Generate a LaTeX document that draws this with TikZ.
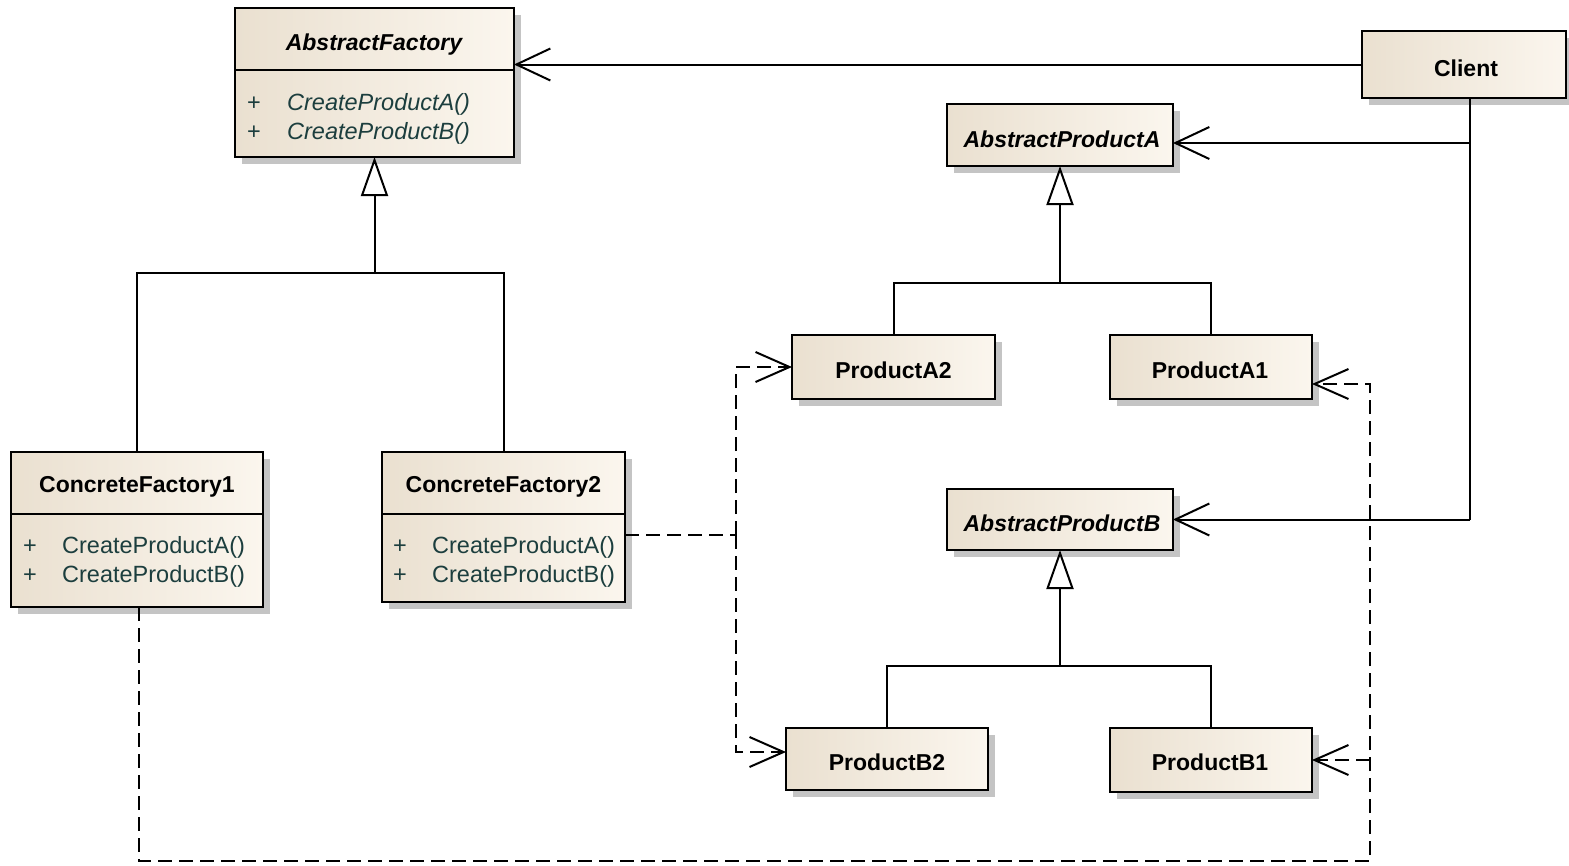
\documentclass[tikz,border=0pt]{standalone}
\usepackage{fontspec}
\setmainfont{Liberation Sans}
\usetikzlibrary{arrows.meta,shadows,calc}
\definecolor{boxL}{RGB}{234,224,208}
\definecolor{boxR}{RGB}{251,246,238}
\definecolor{shadowgray}{RGB}{196,196,196}
\definecolor{methodc}{RGB}{28,62,62}
\tikzset{
  umlbox/.style={draw=black, line width=2.4pt, left color=boxL, right color=boxR,
    drop shadow={shadow xshift=7pt, shadow yshift=-7pt, fill=shadowgray, opacity=1},
    inner sep=0pt, outer sep=0pt, anchor=north west},
  titletext/.style={inner sep=0pt, font=\bfseries\fontsize{23}{27}\selectfont},
  methodtext/.style={inner sep=0pt, anchor=west, text=methodc, font=\fontsize{23.5}{27}\selectfont},
  conn/.style={line width=2pt, draw=black},
  assoc/.style={conn, -{Straight Barb[length=34pt, width=32pt, line width=2pt]}},
  dep/.style={conn, dash pattern=on 14pt off 7pt, -{Straight Barb[length=34pt, width=30pt, line width=2pt]}},
  depline/.style={conn, dash pattern=on 14pt off 7pt},
  inh/.style={conn, -{Triangle[open, fill=white, length=39pt, width=27pt, line width=2pt]}},
}
\begin{document}
\begin{tikzpicture}[x=1pt, y=-1pt]
\useasboundingbox[fill=white] (0,0) rectangle (1569,865);

% AbstractFactory
\node[umlbox, minimum width=279pt, minimum height=149pt] (AF) at (235,8) {};
\draw[line width=2pt] (235,70) -- (514,70);
\node[titletext] (AFt) at (374.5,45) {\textit{AbstractFactory}};
\node[methodtext] (AFp1) at (247,104) {+};
\node[methodtext] (AFm1) at (287,104) {\textit{CreateProductA()}};
\node[methodtext] (AFp2) at (247,133) {+};
\node[methodtext] (AFm2) at (287,133) {\textit{CreateProductB()}};

% Client
\node[umlbox, minimum width=204pt, minimum height=67pt] (Client) at (1362,31) {};
\node[titletext] (Clientt) at (1466,68) {Client};

% AbstractProductA
\node[umlbox, minimum width=226pt, minimum height=62pt] (APA) at (947,104) {};
\node[titletext] (APAt) at (1062,139) {\textit{AbstractProductA}};

% ProductA2 / A1
\node[umlbox, minimum width=203pt, minimum height=64pt] (PA2) at (792,335) {};
\node[titletext] (PA2t) at (893.5,370) {ProductA2};
\node[umlbox, minimum width=202pt, minimum height=64pt] (PA1) at (1110,335) {};
\node[titletext] (PA1t) at (1210,370) {ProductA1};

% AbstractProductB
\node[umlbox, minimum width=226pt, minimum height=61pt] (APB) at (947,489) {};
\node[titletext] (APBt) at (1062,523) {\textit{AbstractProductB}};

% ProductB2 / B1
\node[umlbox, minimum width=202pt, minimum height=62pt] (PB2) at (786,728) {};
\node[titletext] (PB2t) at (887,762) {ProductB2};
\node[umlbox, minimum width=202pt, minimum height=64pt] (PB1) at (1110,728) {};
\node[titletext] (PB1t) at (1210,762) {ProductB1};

% ConcreteFactory1
\node[umlbox, minimum width=252pt, minimum height=155pt] (CF1) at (11,452) {};
\draw[line width=2pt] (11,514) -- (263,514);
\node[titletext] (CF1t) at (137,487) {ConcreteFactory1};
\node[methodtext] (CF1p1) at (23,547) {+};
\node[methodtext] (CF1m1) at (62,547) {CreateProductA()};
\node[methodtext] (CF1p2) at (23,576) {+};
\node[methodtext] (CF1m2) at (62,576) {CreateProductB()};

% ConcreteFactory2
\node[umlbox, minimum width=243pt, minimum height=150pt] (CF2) at (382,452) {};
\draw[line width=2pt] (382,514) -- (625,514);
\node[titletext] (CF2t) at (503.5,487) {ConcreteFactory2};
\node[methodtext] (CF2p1) at (393,547) {+};
\node[methodtext] (CF2m1) at (432,547) {CreateProductA()};
\node[methodtext] (CF2p2) at (393,576) {+};
\node[methodtext] (CF2m2) at (432,576) {CreateProductB()};

% Associations from Client
\draw[assoc] (Client.west) -- (Client.west -| AF.east);
\coordinate (cl) at (1470,98);
\draw[conn] (cl) -- (cl |- APB.east);
\draw[assoc] ([yshift=-8pt]APA.east -| cl) -- ([yshift=-8pt]APA.east);
\draw[assoc] (APB.east -| cl) -- (APB.east);

% Generalisation: factories
\coordinate (fj) at (374.5,273);
\draw[conn] (CF1.north) |- (fj);
\draw[conn] (CF2.north) |- (fj);
\draw[inh] (fj) -- (AF.south);

% Generalisation: products A
\coordinate (aj) at (1060,283);
\draw[conn] (PA2.north) |- (aj);
\draw[conn] (PA1.north) |- (aj);
\draw[inh] (aj) -- (APA.south);

% Generalisation: products B
\coordinate (bj) at (1060,666);
\draw[conn] (PB2.north) |- (bj);
\draw[conn] (PB1.north) |- (bj);
\draw[inh] (bj) -- (APB.south);

% Dependencies from ConcreteFactory2
\coordinate (dj) at (736,535);
\draw[depline] (CF2.east |- dj) -- (dj);
\draw[dep] (dj) |- (PA2.west);
\draw[dep] (dj) |- ([yshift=7pt]PB2.west);

% Dependencies from ConcreteFactory1
\coordinate (db) at (1370,861);
\draw[dep] ([xshift=2pt]CF1.south) |- (db) |- ([yshift=-17pt]PA1.east);
\draw[dep] (db |- PB1.east) -- (PB1.east);
\end{tikzpicture}
\end{document}
